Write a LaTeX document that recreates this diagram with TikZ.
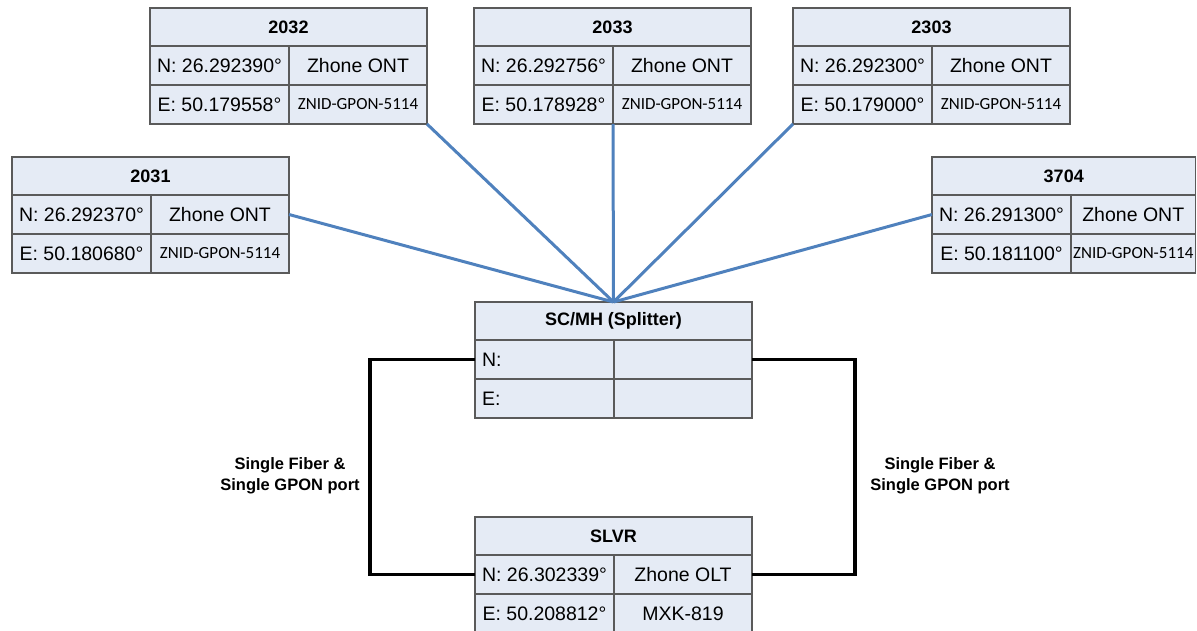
\documentclass[tikz,border=0pt]{standalone}
\usepackage{fontspec}
\setmainfont{Liberation Sans}
\newfontfamily\calibri{Carlito}
\usetikzlibrary{positioning}

\definecolor{cellfill}{HTML}{E5EBF5}
\definecolor{cellline}{HTML}{5A5A5A}
\definecolor{fiberblue}{HTML}{4F81BD}

\tikzset{
  cell/.style={draw=cellline, line width=1.2pt, fill=cellfill, minimum height=39pt,
    inner sep=0pt, outer sep=0pt, anchor=north west, font=\fontsize{19.5}{22}\selectfont},
  headcell/.style={cell, minimum width=277pt, minimum height=38pt,
    font=\fontsize{18}{21}\selectfont\bfseries},
  leftcell/.style={cell, minimum width=139pt},
  rightcell/.style={cell, minimum width=138pt},
  padcell/.style={leftcell, inner xsep=7pt, text width=125pt, align=left},
  model/.style={font=\fontsize{17}{20}\selectfont\calibri},
  fiber/.style={draw=fiberblue, line width=3pt},
  link/.style={draw=black, line width=3.5pt},
  portlabel/.style={align=center, font=\fontsize{16.5}{21}\selectfont\bfseries},
}

\begin{document}
\begin{tikzpicture}[x=1pt, y=-1pt]
    \useasboundingbox (0,0) rectangle (1197,630);

    % ONT boxes
    \foreach \id/\px/\py/\rw/\nn/\ee in {2031/12/157/138/26.292370/50.180680,
                                         2032/150/8/138/26.292390/50.179558,
                                         2033/474/8/138/26.292756/50.178928,
                                         2303/793/8/138/26.292300/50.179000,
                                         3704/932/157/124.5/26.291300/50.181100} {
        \node[headcell, minimum width=139pt+\rw pt] (t\id-h) at (\px,\py) {\id};
        \node[leftcell] (t\id-n) at (t\id-h.south west) {N: \nn°};
        \node[rightcell, minimum width=\rw pt] (t\id-nt) at (t\id-n.north east) {Zhone ONT};
        \node[leftcell] (t\id-e) at (t\id-n.south west) {E: \ee°};
        \node[rightcell, model, minimum width=\rw pt] (t\id-et) at (t\id-e.north east) {ZNID-GPON-5114};
    }

    % Splitter
    \node[headcell] (s-h) at (475,302) {SC/MH (Splitter)};
    \node[padcell] (s-n) at (s-h.south west) {N:};
    \node[rightcell] (s-nt) at (s-n.north east) {};
    \node[padcell] (s-e) at (s-n.south west) {E:};
    \node[rightcell] (s-et) at (s-e.north east) {};

    % OLT
    \node[headcell] (r-h) at (475,517) {SLVR};
    \node[leftcell] (r-n) at (r-h.south west) {N: 26.302339°};
    \node[rightcell] (r-nt) at (r-n.north east) {Zhone OLT};
    \node[leftcell] (r-e) at (r-n.south west) {E: 50.208812°};
    \node[rightcell] (r-et) at (r-e.north east) {MXK-819};

    % Drop fibers
    \draw[fiber] (s-h.north) -- (t2031-nt.east);
    \draw[fiber] (s-h.north) -- (t2032-et.south east);
    \draw[fiber] (s-h.north) -- (t2033-et.south west);
    \draw[fiber] (s-h.north) -- (t2303-e.south west);
    \draw[fiber] (s-h.north) -- (t3704-n.west);

    % Feeder ring
    \draw[link] (s-n.west) -- ++(-105,0) |- (r-n.west);
    \draw[link] (s-nt.east) -- ++(103,0) |- (r-nt.east);
    \node[portlabel] (lbl-l) at (290,476) {Single Fiber \&\\Single GPON port};
    \node[portlabel] (lbl-r) at (940,476) {Single Fiber \&\\Single GPON port};
\end{tikzpicture}
\end{document}
